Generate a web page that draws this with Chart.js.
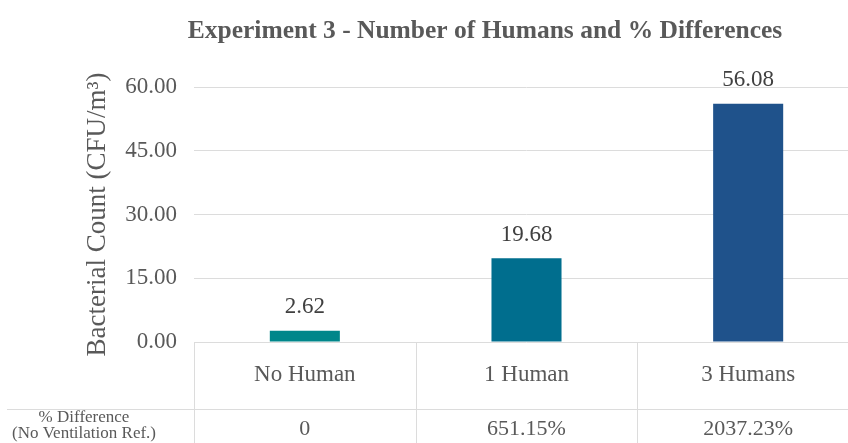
<!DOCTYPE html>
<html>
<head>
<meta charset="utf-8">
<script src="https://cdn.jsdelivr.net/npm/chart.js@4"></script>
<style>
  html,body{margin:0;padding:0;background:#fff;overflow:hidden}
  #wrap{width:848px;height:443px;overflow:hidden}
</style>
</head>
<body>
<div id="wrap"><canvas id="c" width="859" height="443"></canvas></div>
<script>
const chartTitle = 'Experiment 3 - Number of Humans and % Differences'
const categories = ['No Human','1 Human','3 Humans']
const counts = [2.62, 19.68, 56.08]
const pctDiff = ['0','651.15%','2037.23%']
const rowLabel = ['% Difference','(No Ventilation Ref.)']
const barColors = ['#00868A','#006E8E','#1F528B']
const yMax = 60
const yStep = 15

const FONT = '"Liberation Serif", "Times New Roman", serif'
const GREY = '#595959'
const LINE = '#dcdcdc'

// the plot runs a little past the right edge of the picture, so the canvas
// is wider than the window and the wrapper clips it

// title, value labels and the little table under the x axis
const extras = {
  id:'extras',
  afterDraw(chart){
    const ctx = chart.ctx
    const x = chart.scales.x
    const area = chart.chartArea
    ctx.save()
    ctx.fillStyle = GREY
    ctx.font = 'bold 25.5px ' + FONT
    ctx.textAlign = 'center'
    ctx.textBaseline = 'middle'
    ctx.fillText(chartTitle, 485, 31)

    const meta = chart.getDatasetMeta(0)
    ctx.fillStyle = '#404040'
    ctx.font = '23px ' + FONT
    ctx.textBaseline = 'bottom'
    meta.data.forEach((bar,i)=>{
      ctx.fillText(counts[i].toFixed(2), bar.x, bar.y - 12)
    })

    const w = (area.right - area.left)/categories.length
    const rowY = 409
    ctx.strokeStyle = LINE
    ctx.lineWidth = 1
    ctx.beginPath()
    ctx.moveTo(7, rowY + 0.5)
    ctx.lineTo(chart.width, rowY + 0.5)
    for(let i=0;i<categories.length;i++){
      const bx = Math.round(area.left + i*w) + 0.5
      ctx.moveTo(bx, area.bottom)
      ctx.lineTo(bx, chart.height)
    }
    ctx.stroke()

    ctx.fillStyle = GREY
    ctx.textBaseline = 'middle'
    categories.forEach((c,i)=>{
      const cx = x.getPixelForValue(i)
      ctx.font = '23px ' + FONT
      ctx.fillText(c, cx, 375)
      ctx.font = '22px ' + FONT
      ctx.fillText(pctDiff[i], cx, 429)
    })

    ctx.font = '17px ' + FONT
    ctx.fillText(rowLabel[0], 84, 418)
    ctx.fillText(rowLabel[1], 84, 434)
    ctx.restore()
  }
}

new Chart(document.getElementById('c'), {
  type:'bar',
  data:{
    labels:categories,
    datasets:[{
      data:counts,
      backgroundColor:barColors,
      borderWidth:0,
      categoryPercentage:1,
      barPercentage:0.316
    }]
  },
  options:{
    responsive:false,
    animation:false,
    events:[],
    layout:{padding:{left:82,right:0,top:87,bottom:101}},
    plugins:{legend:{display:false},tooltip:{enabled:false},title:{display:false}},
    scales:{
      x:{display:false},
      y:{
        min:0,max:yMax,
        ticks:{stepSize:yStep,color:GREY,padding:17,font:{family:FONT,size:23},callback:v=>v.toFixed(2)},
        grid:{color:LINE,drawTicks:false},
        border:{display:false},
        title:{display:true,text:'Bacterial Count (CFU/m³)',color:GREY,font:{family:FONT,size:27},padding:{top:0,bottom:0}},
        afterFit(s){ s.width = 194 - 82 }
      }
    }
  },
  plugins:[extras]
})
</script>
</body>
</html>
